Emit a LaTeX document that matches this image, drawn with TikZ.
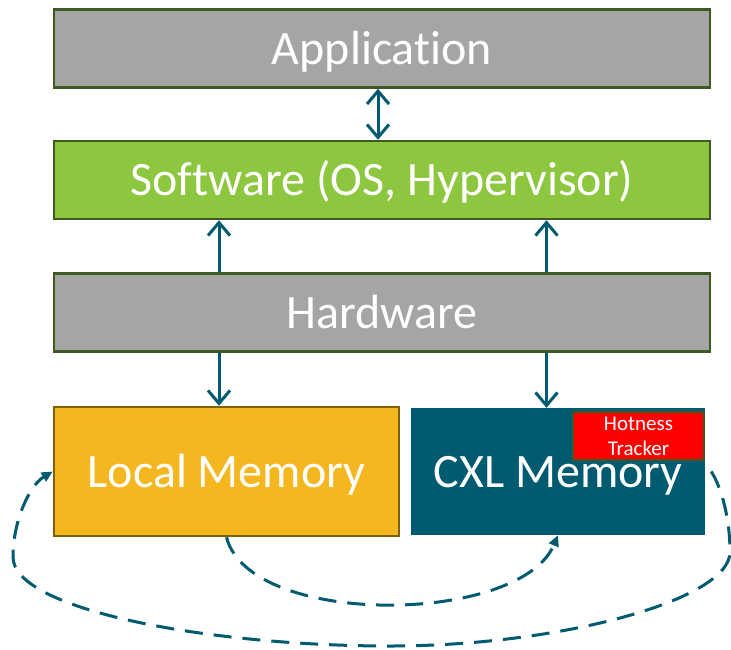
\documentclass[tikz,border=0pt]{standalone}
\usepackage{fontspec}
\setmainfont{Carlito}[Ligatures=NoCommon]
\usetikzlibrary{arrows.meta}
\definecolor{boxgray}{HTML}{A5A5A5}
\definecolor{boxgreen}{HTML}{8DC63F}
\definecolor{edgegreen}{HTML}{3E5A22}
\definecolor{memyellow}{HTML}{F4B720}
\definecolor{edgebrown}{HTML}{7F6000}
\definecolor{teal}{HTML}{005A70}
\definecolor{hotred}{HTML}{FF0000}
\begin{document}
\begin{tikzpicture}[x=1pt,y=-1pt,
  layer/.style={draw=edgegreen, line width=2.5pt, minimum width=656pt, minimum height=78pt,
    inner sep=0pt, text=white, font=\fontsize{48}{56}\selectfont, text height=31pt, text depth=0pt},
  membox/.style={inner sep=0pt, text=white, font=\fontsize{48}{56}\selectfont, text height=31pt, text depth=0pt},
  conn/.style={draw=teal, line width=3pt},
  barb/.tip={Straight Barb[length=13pt,width=22pt]},
  dashconn/.style={draw=teal, line width=3pt, dash pattern=on 18pt off 11pt, -{Triangle[length=11pt,width=10pt]}}
]
\useasboundingbox (0,0) rectangle (731,649);
\node[layer, fill=boxgray]  (app) at (382,48.5) {Application};
\node[layer, fill=boxgreen] (sw)  at (382,180)  {Software (OS, Hypervisor)};
\node[layer, fill=boxgray]  (hw)  at (382,312.5) {Hardware};
\node[membox, fill=memyellow, draw=edgebrown, line width=2.5pt, minimum width=345pt, minimum height=129pt] (local) at (226.5,471.5) {Local Memory};
\node[membox, fill=teal, minimum width=294pt, minimum height=127pt] (cxl) at (558,471.5) {CXL Memory};
\node[fill=hotred, draw=edgegreen, line width=1.5pt, minimum width=131pt, minimum height=48pt, inner sep=0pt,
  text=white, align=center, font=\fontsize{21}{25}\selectfont] (hot) at (638.5,436) {Hotness\\Tracker};
\coordinate (ax1) at (219,0);
\coordinate (ax2) at (546.5,0);
\coordinate (ax0) at (378,0);
\draw[conn, barb-barb] (app.south -| ax0) -- (sw.north -| ax0);
\draw[conn, -barb] (hw.north -| ax1) -- (sw.south -| ax1);
\draw[conn, -barb] (hw.north -| ax2) -- (sw.south -| ax2);
\draw[conn, -barb] (hw.south -| ax1) -- (local.north -| ax1);
\draw[conn, -barb] (hw.south -| ax2) -- (cxl.north -| ax2);
\draw[dashconn] (local.south) .. controls (250,628) and (520,625) .. (cxl.south);
\draw[dashconn] ([xshift=6pt]cxl.east) .. controls (720,485) and (730,515) .. (730,552)
  .. controls (730,600) and (560,646) .. (390,646)
  .. controls (210,646) and (13,610) .. (13,557)
  .. controls (13,520) and (30,485) .. (local.west);
\end{tikzpicture}
\end{document}
